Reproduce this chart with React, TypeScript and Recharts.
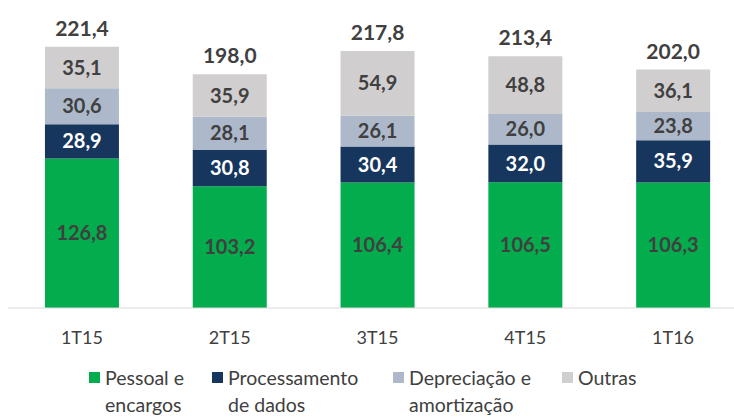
import React from 'react';
import { BarChart, Bar, XAxis, YAxis, LabelList, Legend } from 'recharts';

const categories = ['1T15', '2T15', '3T15', '4T15', '1T16'];
const pessoal = [126.8, 103.2, 106.4, 106.5, 106.3];
const processamento = [28.9, 30.8, 30.4, 32.0, 35.9];
const depreciacao = [30.6, 28.1, 26.1, 26.0, 23.8];
const outras = [35.1, 35.9, 54.9, 48.8, 36.1];
const totals = [221.4, 198.0, 217.8, 213.4, 202.0];

const seriesNames = ['Pessoal e\nencargos', 'Processamento\nde dados', 'Depreciação e\namortização', 'Outras'];
const colors = ['#03AC4C', '#17365D', '#ADB9CA', '#D0CECE'];

const data = categories.map((c, i) => ({
  cat: c,
  pessoal: pessoal[i],
  processamento: processamento[i],
  depreciacao: depreciacao[i],
  outras: outras[i],
  total: totals[i],
}));

const fmt = (v: any) => Number(v).toFixed(1).replace('.', ',');
const FONT = 'Lato, "Open Sans", sans-serif';

const legendLefts = [89, 212, 393, 562];

const CustomLegend = () => (
  <div style={{ position: 'relative', width: 734, height: 74, fontFamily: FONT, fontSize: 19.5, color: '#404040' }}>
    {seriesNames.map((n, i) => (
      <div key={n} style={{ position: 'absolute', left: legendLefts[i], top: 21 }}>
        <div style={{ position: 'absolute', left: 0, top: 8, width: 11, height: 11, background: colors[i] }} />
        <div style={{ position: 'absolute', left: 16, top: 0, lineHeight: '27px', whiteSpace: 'pre' }}>{n}</div>
      </div>
    ))}
  </div>
);

export default function App() {
  const labelStyle = { fontFamily: FONT, fontSize: 20, fontWeight: 700 } as any;
  return (
    <div style={{ position: 'fixed', left: 0, top: 0, width: 734, height: 417, overflow: 'hidden', background: '#fff' }}>
      <BarChart width={760} height={417} data={data} margin={{ top: 13, right: 13, bottom: 0, left: 8 }} barCategoryGap="25%">
        <XAxis
          dataKey="cat"
          height={35}
          axisLine={{ stroke: '#D9D9D9' }}
          tickLine={false}
          tickSize={0}
          tickMargin={23}
          tick={{ fill: '#404040', fontSize: 18, fontFamily: FONT }}
        />
        <YAxis hide domain={[0, 250]} />
        <Legend verticalAlign="bottom" wrapperStyle={{ left: 0, width: 734 }} content={<CustomLegend />} />
        <Bar dataKey="pessoal" stackId="a" fill={colors[0]} isAnimationActive={false}>
          <LabelList dataKey="pessoal" position="center" formatter={fmt} style={labelStyle} fill="#404040" />
        </Bar>
        <Bar dataKey="processamento" stackId="a" fill={colors[1]} isAnimationActive={false}>
          <LabelList dataKey="processamento" position="center" formatter={fmt} style={labelStyle} fill="#FFFFFF" />
        </Bar>
        <Bar dataKey="depreciacao" stackId="a" fill={colors[2]} isAnimationActive={false}>
          <LabelList dataKey="depreciacao" position="center" formatter={fmt} style={labelStyle} fill="#404040" />
        </Bar>
        <Bar dataKey="outras" stackId="a" fill={colors[3]} isAnimationActive={false}>
          <LabelList dataKey="outras" position="center" formatter={fmt} style={labelStyle} fill="#404040" />
          <LabelList dataKey="total" position="top" offset={11} formatter={fmt} style={{ ...labelStyle, fontSize: 21 }} fill="#404040" />
        </Bar>
      </BarChart>
    </div>
  );
}
